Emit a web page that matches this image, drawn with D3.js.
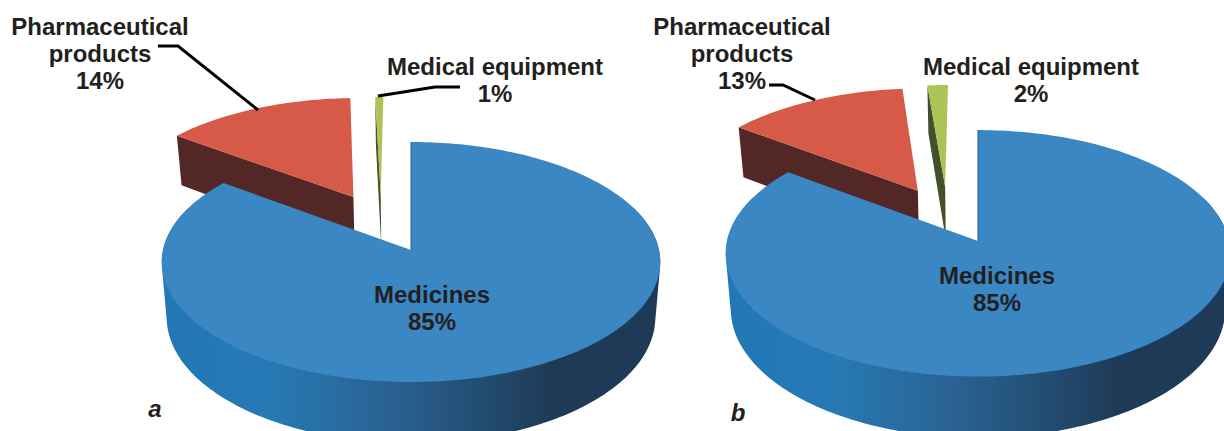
<!DOCTYPE html>
<html>
<head>
<meta charset="utf-8">
<script src="https://cdn.jsdelivr.net/npm/d3@7/dist/d3.min.js"></script>
<style>
body { margin: 0; background: #fff; }
svg { display: block; }
text { font-family: "Liberation Sans", Arial, sans-serif; font-weight: bold; font-size: 24px; fill: #231f20; text-anchor: middle; }
.leader { fill: none; stroke: #000; stroke-width: 3; }
</style>
</head>
<body>
<svg width="1224" height="431"></svg>
<script>
// values, labels show them rounded
var categories = ["Medicines", "Pharmaceutical products", "Medical equipment"];
var sharesA = [85.2, 14.2, 0.6];
var sharesB = [85.2, 13.3, 1.5];

var topColors = ["#3a87c4", "#d75a49", "#aec355"];
var sideColors = ["url(#rim)", "#532725", "#43502b"];

var width = 1224, height = 431;
var tilt = 0.1, depth = 55, converge = 0.02;

var panels = [
    {
        shares: sharesA, name: "a", nameX: 155, nameY: 417,
        cx: 411, cy: 250, rx: 248, ry: 118.8,
        // how far each slice is pulled out of the pie
        pull: [[0, 0], [-0.243, -0.467], [-0.128, -0.48]],
        labels: [
            { lines: ["Medicines", "85%"], x: 432, y: 303 },
            { lines: ["Pharmaceutical", "products", "14%"], x: 100, y: 35 },
            { lines: ["Medical equipment", "1%"], x: 495, y: 75 }
        ],
        leaders: [
            [[158, 46], [178, 46], [258, 110]],
            [[378, 96], [435, 87], [460, 87]]
        ]
    },
    {
        shares: sharesB, name: "b", nameX: 738, nameY: 421,
        cx: 978, cy: 241, rx: 251, ry: 122,
        pull: [[0, 0], [-0.25, -0.43], [-0.137, -0.466]],
        labels: [
            { lines: ["Medicines", "85%"], x: 997, y: 284 },
            { lines: ["Pharmaceutical", "products", "13%"], x: 742, y: 35 },
            { lines: ["Medical equipment", "2%"], x: 1031, y: 75 }
        ],
        leaders: [
            [[769, 85], [783, 85], [815, 100]]
        ]
    }
];

var svg = d3.select("svg");

var defs = svg.append("defs");
var rim = defs.append("linearGradient")
    .attr("id", "rim")
    .attr("x1", "0").attr("x2", "1")
    .attr("y1", "0").attr("y2", "0");
[[0, "#2178b5"], [0.22, "#2779b4"], [0.45, "#2a6293"], [0.62, "#234f75"], [0.78, "#1f3a56"], [1, "#1f3a56"]].forEach(function(s) {
    rim.append("stop").attr("offset", s[0]).attr("stop-color", s[1]);
});

var pie = d3.pie().sort(null).value(function(d) { return d; });
var line = d3.line();

panels.forEach(function(panel) {
    var g = svg.append("g");

    var x = d3.scaleLinear().domain([-1, 1]).range([panel.cx - panel.rx, panel.cx + panel.rx]);
    var y = d3.scaleLinear().domain([-1, 1]).range([panel.cy - panel.ry, panel.cy + panel.ry]);

    // flat pie coordinates to the screen, with some perspective
    function project(px, py, drop) {
        var w = 1 - tilt * py;
        var d = drop || 0;
        return [x(px / w * (1 - converge * d / depth)), y(py / w) + d / w];
    }

    function rimPoint(angle, pull, drop) {
        return project(pull[0] + Math.sin(angle), pull[1] - Math.cos(angle), drop);
    }

    function arcPoints(a0, a1, pull, drop) {
        var n = Math.max(2, Math.ceil((a1 - a0) / 0.02));
        return d3.range(n + 1).map(function(i) {
            return rimPoint(a0 + (a1 - a0) * i / n, pull, drop);
        });
    }

    // wall of one stretch of rim, hull keeps the outline smooth
    function wall(a0, a1, pull) {
        return line(d3.polygonHull(arcPoints(a0, a1, pull, 0).concat(arcPoints(a0, a1, pull, depth)))) + "Z";
    }

    var slices = pie(panel.shares);

    // back slices first, the big one covers their lower parts
    [1, 2, 0].forEach(function(i) {
        var s = slices[i], pull = panel.pull[i];
        var apex = project(pull[0], pull[1]);
        var apexLow = project(pull[0], pull[1], depth);

        if (i === 0) {
            // two halves so the hull does not span the gap above the centre
            g.append("path")
                .attr("d", wall(Math.PI * 0.38, Math.PI * 1.02, pull) + wall(Math.PI * 0.98, Math.PI * 1.62, pull))
                .attr("fill", sideColors[i]);
        } else {
            var tip = rimPoint(s.startAngle, pull, 0);
            var tipLow = rimPoint(s.startAngle, pull, depth);
            g.append("path")
                .attr("d", line([tip, apex, apexLow, tipLow]) + "Z")
                .attr("fill", sideColors[i]);
        }

        g.append("path")
            .attr("d", line([apex].concat(arcPoints(s.startAngle, s.endAngle, pull, 0))) + "Z")
            .attr("fill", topColors[i]);

        if (i === 0) {
            g.append("path")
                .attr("d", line([apex, rimPoint(s.startAngle, pull, 0)]))
                .attr("stroke", "#1f5f92")
                .attr("stroke-width", 1)
                .attr("fill", "none");
        }
    });

    panel.leaders.forEach(function(l) {
        g.append("path").attr("class", "leader").attr("d", line(l));
    });

    panel.labels.forEach(function(label, i) {
        var t = g.append("text").attr("y", label.y);
        label.lines.forEach(function(s, j) {
            // last line is always the rounded share
            var text = j === label.lines.length - 1 ? Math.round(panel.shares[i]) + "%" : s;
            t.append("tspan")
                .attr("x", label.x)
                .attr("dy", j === 0 ? 0 : 27)
                .text(text);
        });
    });

    g.append("text")
        .attr("x", panel.nameX)
        .attr("y", panel.nameY)
        .style("font-style", "italic")
        .style("font-size", "24px")
        .text(panel.name);
});
</script>
</body>
</html>
